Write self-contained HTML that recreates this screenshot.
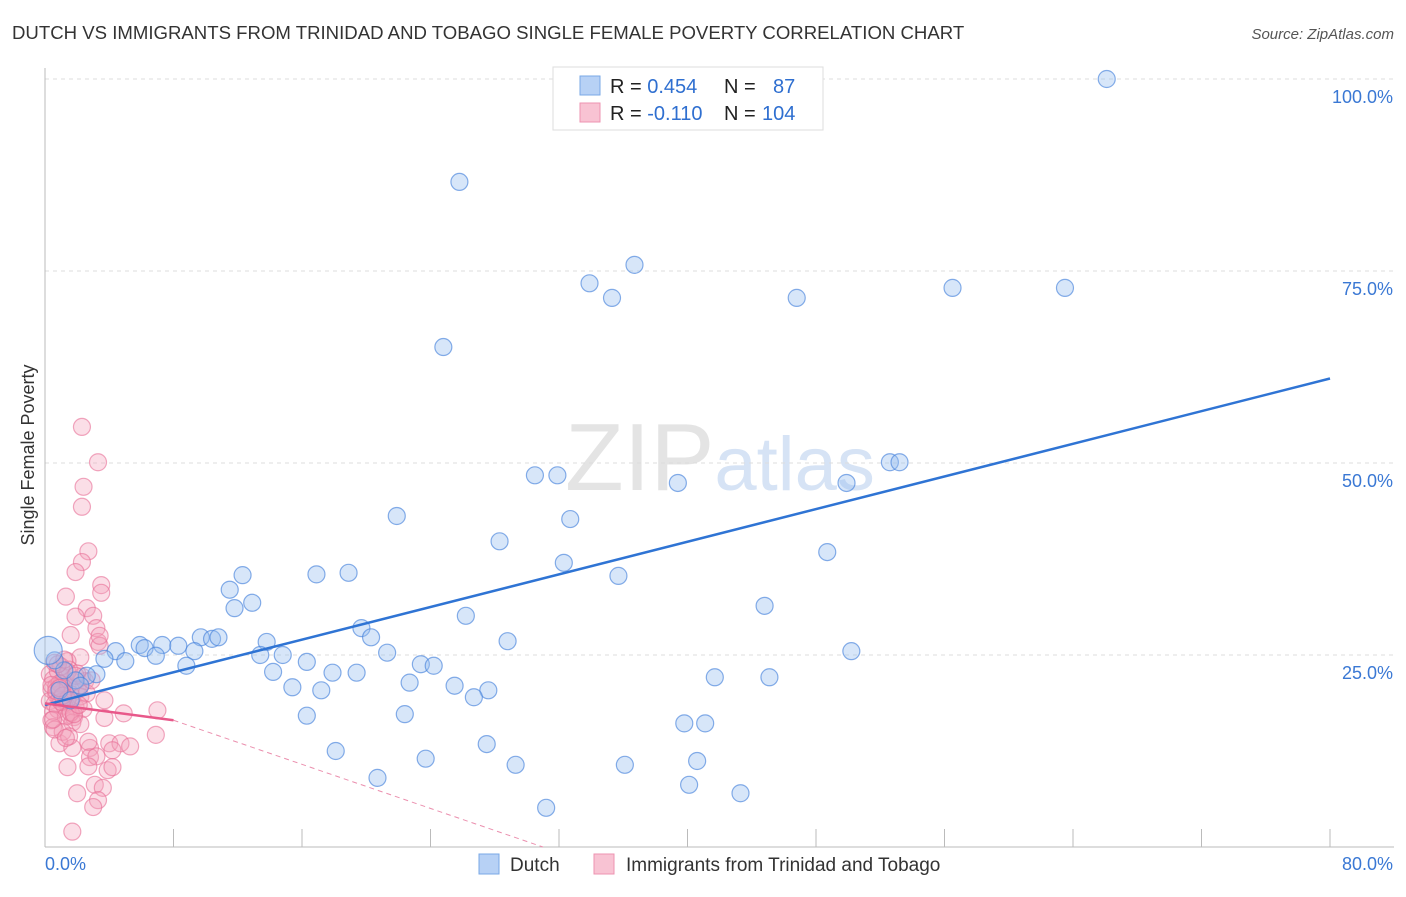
<!DOCTYPE html>
<html><head><meta charset="utf-8">
<style>
body{margin:0;background:#fff;font-family:"Liberation Sans",sans-serif;}
svg text{font-family:"Liberation Sans",sans-serif;}
</style></head>
<body>
<svg id="chart" width="1406" height="892" xmlns="http://www.w3.org/2000/svg">
<text x="12" y="39" font-size="18.6" fill="#333">DUTCH VS IMMIGRANTS FROM TRINIDAD AND TOBAGO SINGLE FEMALE POVERTY CORRELATION CHART</text>
<text x="1394" y="39" font-size="15" fill="#555" text-anchor="end" font-style="italic">Source: ZipAtlas.com</text>
<text x="720" y="490" font-size="96" fill="#e4e4e4" text-anchor="middle" font-family="Liberation Serif">ZIP<tspan fill="#d6e3f5" font-family="Liberation Sans" font-size="76">atlas</tspan></text>
<text transform="translate(34,455) rotate(-90)" font-size="18" fill="#333" text-anchor="middle">Single Female Poverty</text>
<g id="grid"></g><g id="axes"></g><g id="pink"></g><g id="blue"></g><g id="lines"></g>
<g>
<rect x="553" y="67" width="270" height="63" fill="#fff" stroke="#ddd"/>
<rect x="580" y="76" width="20" height="19" fill="#b7d1f5" stroke="#7aa8e6"/>
<rect x="580" y="103" width="20" height="19" fill="#f8c3d3" stroke="#ee93b0"/>
<text x="610" y="93" font-size="20" fill="#222">R = <tspan fill="#2f6fd0">0.454</tspan><tspan x="724">N = </tspan><tspan x="773" fill="#2f6fd0">87</tspan></text>
<text x="610" y="120" font-size="20" fill="#222">R = <tspan fill="#2f6fd0">-0.110</tspan><tspan x="724">N = </tspan><tspan x="762" fill="#2f6fd0">104</tspan></text>
</g>
<g>
<rect x="479" y="854" width="20" height="20" fill="#b7d1f5" stroke="#7aa8e6"/>
<text x="510" y="871" font-size="19" fill="#333">Dutch</text>
<rect x="594" y="854" width="20" height="20" fill="#f8c3d3" stroke="#ee93b0"/>
<text x="626" y="871" font-size="19" fill="#333">Immigrants from Trinidad and Tobago</text>
</g>
</svg>
<script>
const yTicks=[25,50,75,100];
const yTickLabels=["25.0%","50.0%","75.0%","100.0%"];
const xTickVals=[0,8,16,24,32,40,48,56,64,72,80];
const xEndLabels=["0.0%","80.0%"];
const blueX=[66.1,25.8,36.7,33.9,35.3,46.8,56.5,63.5,24.8,30.5,31.9,39.4,52.6,53.2,49.9,21.9,32.7,28.3,48.7,32.3,35.7,12.3,16.9,18.9,11.5,12.9,11.8,44.8,26.2,19.7,20.3,28.8,13.8,9.7,10.4,10.8,5.9,6.2,7.3,8.3,9.3,6.9,4.4,3.7,5.0,21.3,13.4,14.8,16.3,8.8,23.4,24.2,14.2,17.9,19.4,50.2,41.7,45.1,22.7,25.5,27.6,15.4,17.2,26.7,3.2,2.6,1.9,1.2,16.3,22.4,39.8,41.1,27.5,18.1,23.7,29.3,36.1,40.6,20.7,40.1,43.3,31.2,0.6,0.9,1.6,2.2,0.2];
const blueY=[100,86.6,75.8,73.4,71.5,71.5,72.8,72.8,65.1,48.4,48.4,47.4,50.1,50.1,47.4,43.1,42.7,39.8,38.4,37.0,35.3,35.4,35.5,35.7,33.5,31.8,31.1,31.4,30.1,28.5,27.3,26.8,26.7,27.3,27.1,27.3,26.3,25.9,26.3,26.2,25.5,24.9,25.5,24.5,24.2,25.3,25.0,25.0,24.1,23.6,23.8,23.6,22.8,22.7,22.7,25.5,22.1,22.1,21.4,21.0,20.4,20.8,20.4,19.5,22.5,22.3,21.7,23.0,17.1,17.3,16.1,16.1,13.4,12.5,11.5,10.7,10.7,11.2,9.0,8.1,7.0,5.1,24.3,20.4,19.1,21.0,25.6];
const pinkX=[2.3,3.3,2.4,2.3,2.7,2.3,1.9,3.5,3.5,1.3,2.6,1.9,3.0,3.2,1.6,3.3,3.4,2.2,3.7,4.9,3.7,7.0,6.9,0.9,1.7,2.8,4.0,4.7,5.3,4.2,2.8,3.2,1.4,2.7,3.9,4.2,3.1,3.6,2.0,3.3,3.0,1.7,3.4,1.4,2.7,
0.3,0.5,0.8,1.0,1.2,1.5,1.8,2.0,2.3,0.4,0.7,1.1,1.4,1.7,2.1,2.5,0.3,0.6,0.9,1.3,1.6,1.9,2.2,0.5,0.8,1.2,1.5,1.8,2.4,0.4,0.7,1.0,1.4,2.0,0.6,0.9,1.3,1.7,0.5,1.1,1.5,2.6,0.8,1.2,1.9,0.4,1.0,1.6,2.2,0.7,1.4,2.9,0.6,1.8,1.1,0.9,1.3,2.1,0.5];
const pinkY=[54.7,50.1,46.9,44.3,38.5,37.1,35.8,34.1,33.1,32.6,31.1,30.0,30.1,28.5,27.6,26.7,26.2,24.7,19.1,17.4,16.8,17.8,14.6,13.5,12.9,12.9,13.5,13.5,13.1,12.6,11.7,11.8,10.4,10.5,10.0,10.4,8.1,7.7,7.0,6.1,5.2,2.0,27.5,24.2,13.7,
22.5,21.8,22.9,21.2,22.0,23.1,21.5,20.8,22.2,20.5,19.8,20.2,21.0,19.5,20.6,21.6,19.0,18.6,19.3,18.8,19.9,18.2,19.6,17.6,17.9,18.4,17.2,16.9,18.0,16.5,20.9,23.5,22.8,22.6,24.0,21.3,17.0,16.2,15.6,15.0,14.4,20.0,23.8,24.4,22.3,21.1,18.9,17.5,16.0,20.3,19.2,21.7,15.3,17.3,19.7,20.7,14.2,18.5,16.6];
const blueFit=[18.5,61.0];
const pinkFit=[18.7,16.5];
const pinkDashEnd=[31,0];
const ns="http://www.w3.org/2000/svg";
const X=v=>45+v*(1285/80);
const Y=v=>847-v*7.68;
function mk(tag,attrs,parent){const e=document.createElementNS(ns,tag);for(const k in attrs)e.setAttribute(k,attrs[k]);parent.appendChild(e);return e;}
const grid=document.getElementById('grid'),axes=document.getElementById('axes');
yTicks.forEach((t,i)=>{
 const l=mk('line',{x1:45,x2:1394,y1:Y(t),y2:Y(t),stroke:'#ddd','stroke-dasharray':'4,4'},grid);
 
 
 const tx=mk('text',{x:1393,y:Y(t)+24,'font-size':18,fill:'#3a78d4','text-anchor':'end'},axes);
 tx.textContent=yTickLabels[i];
 
 
});
const ax=mk('line',{x1:45,x2:1394,y1:847,y2:847,stroke:'#bbb'},axes);


const ay=mk('line',{x1:45,x2:45,y1:68,y2:847,stroke:'#bbb'},axes);


xTickVals.forEach(t=>{if(t===0)return;
 const l=mk('line',{x1:X(t),x2:X(t),y1:829,y2:847,stroke:'#bbb'},axes);
 
 
});
const xl0=mk('text',{x:45,y:870,'font-size':18,fill:'#3a78d4'},axes);xl0.textContent=xEndLabels[0];


const xl1=mk('text',{x:1393,y:870,'font-size':18,fill:'#3a78d4','text-anchor':'end'},axes);xl1.textContent=xEndLabels[1];


const pg=document.getElementById('pink');
pinkX.forEach((v,i)=>{if(pinkY[i]===undefined)return;const c=mk('circle',{cx:X(v),cy:Y(pinkY[i]),r:8.5,fill:'rgba(244,160,186,0.35)',stroke:'rgba(232,110,150,0.6)','stroke-width':1.2},pg);
 
 });
const bg=document.getElementById('blue');
blueX.forEach((v,i)=>{const big=i===blueX.length-1;const c=mk('circle',{cx:X(v),cy:Y(blueY[i]),r:big?14:8.5,fill:'rgba(150,190,240,0.38)',stroke:'rgba(70,130,220,0.65)','stroke-width':1.2},bg);
 
 });
const lg=document.getElementById('lines');
const bl=mk('line',{x1:X(0),y1:Y(blueFit[0]),x2:X(80),y2:Y(blueFit[1]),stroke:'#2f74d4','stroke-width':2.5},lg);


const pl=mk('line',{x1:X(0),y1:Y(pinkFit[0]),x2:X(8),y2:Y(pinkFit[1]),stroke:'#e8588a','stroke-width':2.5},lg);


const pd=mk('line',{x1:X(8),y1:Y(pinkFit[1]),x2:X(pinkDashEnd[0]),y2:Y(pinkDashEnd[1]),stroke:'#eb8fae','stroke-width':1,'stroke-dasharray':'5,4'},lg);


</script>
</body></html>
